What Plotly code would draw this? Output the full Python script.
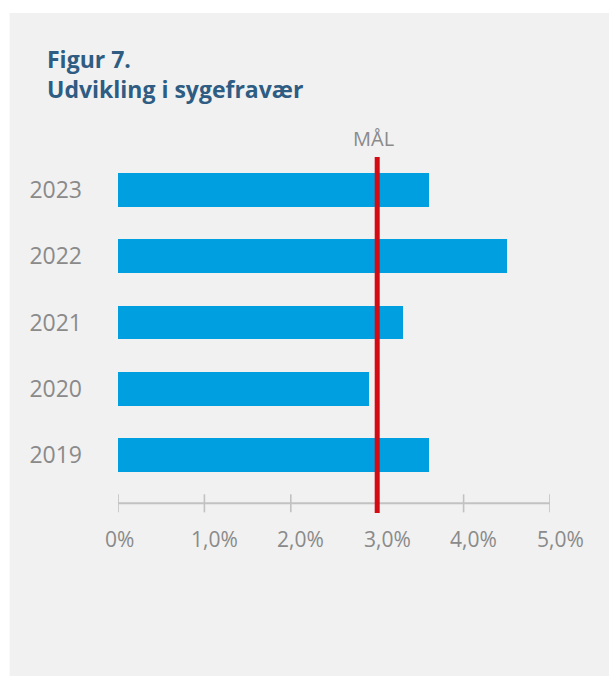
import plotly.graph_objects as go

# Sick-leave rate per year (percent) and the target line
years = ["2019", "2020", "2021", "2022", "2023"]
fravaer = [3.6, 2.9, 3.3, 4.5, 3.6]
maal = 3.0
maal_label = "MÅL"

x_ticks = [0, 1, 2, 3, 4, 5]
x_tick_labels = ["0%", "1,0%", "2,0%", "3,0%", "4,0%", "5,0%"]

title_lines = ["Figur 7.", "Udvikling i sygefravær"]

# Page geometry (pixels)
W, H = 609, 676
ML, MR, MT, MB = 117.5, 59.0, 157.0, 163.3
PW = W - ML - MR
PH = H - MT - MB


def px_x(px):
    return (px - ML) / PW


def px_y(py):
    return (H - MB - py) / PH


PANEL = "#f1f1f1"
GREY_TXT = "#8a8a8a"
AXIS_COL = "#c2c2c2"
BAR_COL = "#009fe0"
RED = "#d50b14"
TITLE_COL = "#2e5c82"
FONT = "Open Sans"

ypos = list(range(len(years)))
y_range = [-0.870, 4.495]
axis_y = -0.724
tick_y0, tick_y1 = -0.588, -0.860

fig = go.Figure()
fig.add_trace(go.Bar(
    x=fravaer, y=ypos, orientation="h",
    marker=dict(color=BAR_COL, line=dict(width=0)),
    width=0.51, hoverinfo="x+y",
))

shapes = [
    # grey panel behind everything
    dict(type="rect", xref="paper", yref="paper", layer="below",
         x0=px_x(9), x1=px_x(W + 2), y0=px_y(H + 2), y1=px_y(13),
         fillcolor=PANEL, line=dict(width=0)),
    # baseline of the value axis
    dict(type="line", xref="x", yref="y", x0=x_ticks[0], x1=x_ticks[-1],
         y0=axis_y, y1=axis_y, line=dict(color=AXIS_COL, width=2)),
]
for t in x_ticks:
    shapes.append(dict(type="line", xref="x", yref="y", x0=t, x1=t,
                       y0=tick_y0, y1=tick_y1,
                       line=dict(color=AXIS_COL, width=1.6)))
# target line
shapes.append(dict(type="line", xref="x", yref="paper", x0=maal, x1=maal,
                   y0=0, y1=1, line=dict(color=RED, width=5)))

annotations = []
for t, lab in zip(x_ticks, x_tick_labels):
    annotations.append(dict(
        x=t, y=0, xref="x", yref="paper", text=lab, showarrow=False,
        xanchor="left", yanchor="middle", xshift=-15.5, yshift=-26.3,
        font=dict(family=FONT, size=21, color=GREY_TXT)))
annotations.append(dict(
    x=maal, y=1, xref="x", yref="paper", text=maal_label, showarrow=False,
    xanchor="center", yanchor="bottom", xshift=-3.5, yshift=3,
    font=dict(family=FONT, size=20, color=GREY_TXT)))
# two-line heading
annotations.append(dict(
    x=px_x(45), y=px_y(42), xref="paper", yref="paper",
    text="<br>".join("<b>%s</b>" % s for s in title_lines),
    showarrow=False, align="left", xanchor="left", yanchor="top",
    borderpad=0,
    font=dict(family=FONT, size=23, color=TITLE_COL)))

fig.update_layout(
    width=W, height=H,
    margin=dict(l=ML, r=MR, t=MT, b=MB, pad=0),
    paper_bgcolor="white", plot_bgcolor=PANEL,
    showlegend=False, bargap=0,
    shapes=shapes, annotations=annotations,
    xaxis=dict(range=[x_ticks[0], x_ticks[-1]], showgrid=False,
               zeroline=False, showline=False, showticklabels=False,
               fixedrange=True),
    yaxis=dict(range=y_range, tickvals=ypos, ticktext=years,
               showgrid=False, zeroline=False, showline=False, ticks="",
               ticklabelstandoff=35,
               tickfont=dict(family=FONT, size=23, color=GREY_TXT),
               fixedrange=True),
)

fig.write_html("out.html")
